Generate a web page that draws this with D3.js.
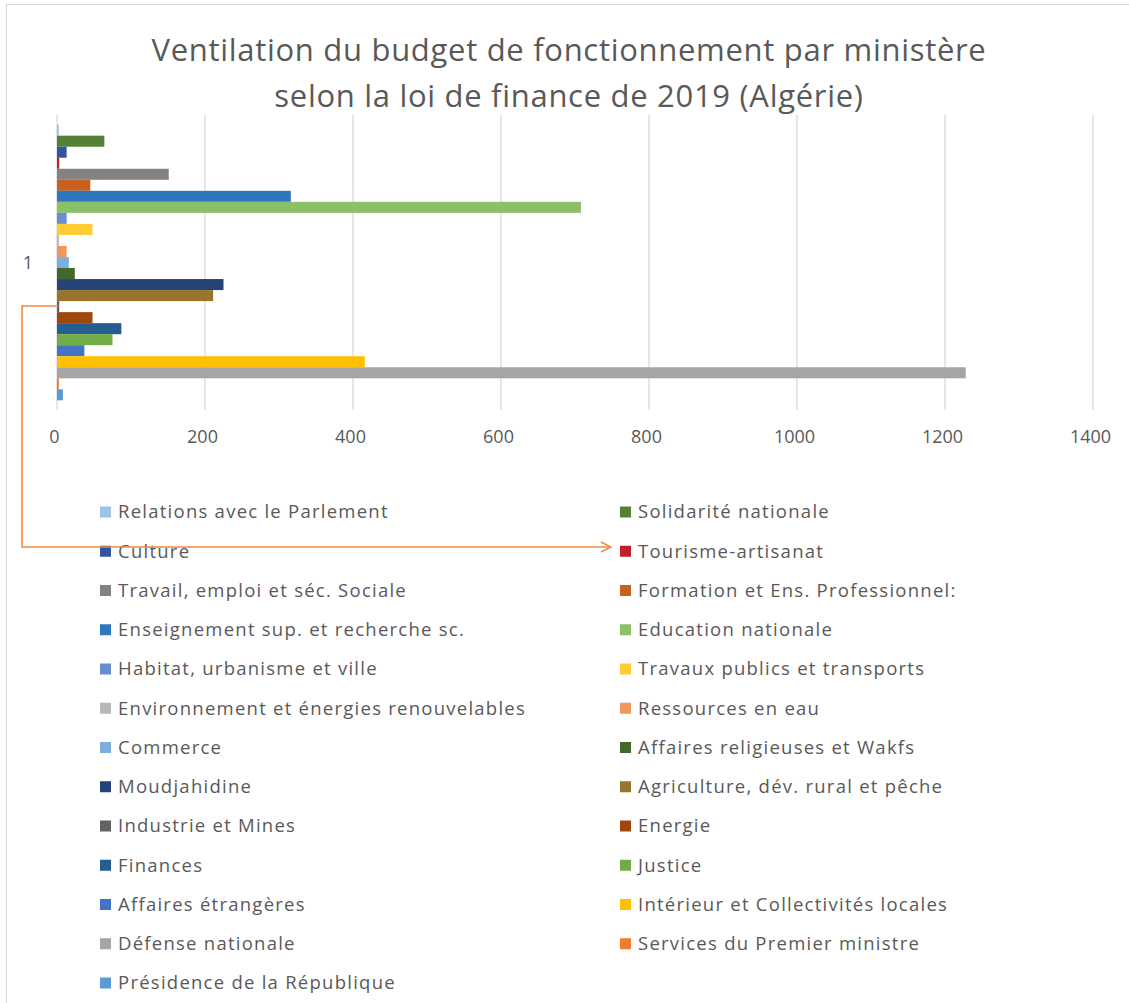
<!DOCTYPE html>
<html>
<head>
<meta charset="utf-8">
<script src="https://cdn.jsdelivr.net/npm/d3@7"></script>
<style>
  html, body { margin: 0; padding: 0; background: #fff; }
  svg { display: block; }
  text { font-family: "Open Sans", Lato, sans-serif; fill: #595959; }
</style>
</head>
<body>
<svg id="chart" width="1129" height="1003"></svg>
<script>
// Budget de fonctionnement 2019 par ministère (milliards de DA), lu de haut en bas
const categories = ["1"];

const ministeres = [
  "Relations avec le Parlement", "Solidarité nationale",
  "Culture", "Tourisme-artisanat",
  "Travail, emploi et séc. Sociale", "Formation et Ens. Professionnel:",
  "Enseignement sup. et recherche sc.", "Education nationale",
  "Habitat, urbanisme et ville", "Travaux publics et transports",
  "Environnement et énergies renouvelables", "Ressources en eau",
  "Commerce", "Affaires religieuses et Wakfs",
  "Moudjahidine", "Agriculture, dév. rural et pêche",
  "Industrie et Mines", "Energie",
  "Finances", "Justice",
  "Affaires étrangères", "Intérieur et Collectivités locales",
  "Défense nationale", "Services du Premier ministre",
  "Présidence de la République"
];

const montants = [
  2.5, 64,
  13, 3,
  151, 45,
  316, 708,
  13, 48,
  2.5, 13,
  16, 24,
  225, 211,
  3, 48,
  87, 75,
  37, 416,
  1228, 2.5,
  8
];

const xTicks = [0, 200, 400, 600, 800, 1000, 1200, 1400];

const palette = [
  "#9DC3E6", "#548235",
  "#2F55A0", "#C0202A",
  "#838383", "#C9601F",
  "#2E77BE", "#8CC068",
  "#698ED0", "#FFCD33",
  "#B8B8B8", "#F1975A",
  "#7CAFDD", "#43682B",
  "#264478", "#98752C",
  "#636363", "#9E480E",
  "#255E91", "#70AD47",
  "#4472C4", "#FFC000",
  "#A5A5A5", "#ED7D31",
  "#5B9BD5"
];

const svg = d3.select("#chart");

// cadre du graphique
svg.append("rect")
  .attr("x", 6.5).attr("y", 4.5)
  .attr("width", 1140).attr("height", 1010)
  .attr("fill", "none").attr("stroke", "#D9D9D9").attr("stroke-width", 1);

// titre
const title = svg.append("text")
  .attr("x", 569).attr("text-anchor", "middle")
  .style("font-size", "31px")
  .style("letter-spacing", "0.7px");
title.append("tspan").attr("x", 569).attr("y", 61)
  .text("Ventilation du budget de fonctionnement par ministère");
title.append("tspan").attr("x", 569).attr("y", 107)
  .text("selon la loi de finance de 2019 (Algérie)");

// échelles
const x = d3.scaleLinear().domain([0, 1400]).range([57, 1093]);
const plotTop = 115, plotBottom = 410;

const y0 = d3.scaleBand().domain(categories)
  .range([plotTop, plotBottom]).paddingInner(0).paddingOuter(0.035);
const y1 = d3.scaleBand().domain(ministeres)
  .range([0, y0.bandwidth()]).padding(0);
const color = d3.scaleOrdinal().domain(ministeres).range(palette);

// grille verticale
const grid = svg.append("g").attr("class", "grid");
grid.selectAll("line").data(xTicks).join("line")
  .attr("x1", d => x(d)).attr("x2", d => x(d))
  .attr("y1", plotTop).attr("y2", plotBottom)
  .attr("stroke", "#D9D9D9").attr("stroke-width", 1.3);

// barres
const groups = svg.append("g").selectAll("g")
  .data(categories).join("g")
  .attr("transform", d => `translate(0,${y0(d)})`);

groups.selectAll("rect")
  .data(() => ministeres.map((m, i) => ({ name: m, value: montants[i] })))
  .join("rect")
  .attr("x", x(0))
  .attr("y", d => y1(d.name))
  .attr("width", d => x(d.value) - x(0))
  .attr("height", y1.bandwidth())
  .attr("fill", d => color(d.name));

// axe horizontal (étiquettes seules)
const xAxis = d3.axisBottom(x).tickValues(xTicks).tickSize(0).tickPadding(0)
  .tickFormat(d3.format("d"));
const axisG = svg.append("g")
  .attr("transform", `translate(0,${plotBottom + 20})`)
  .call(xAxis);
axisG.select(".domain").remove();
axisG.selectAll("text")
  .style("font-size", "18px")
  .style("font-family", "\"Open Sans\", sans-serif")
  .attr("fill", "#595959")
  .attr("dx", "-3px");

// étiquette de catégorie
svg.append("g").selectAll("text").data(categories).join("text")
  .attr("x", 28)
  .attr("y", d => y0(d) + y0.bandwidth() / 2)
  .attr("text-anchor", "middle").attr("dy", "0.35em")
  .style("font-size", "18px")
  .text(d => d);

// légende sur deux colonnes
const legend = svg.append("g").attr("class", "legend");
const colX = [100, 620];
const rowY = i => 512 + i * 39.25;
const items = legend.selectAll("g").data(ministeres).join("g")
  .attr("transform", (d, i) => `translate(${colX[i % 2]},${rowY(Math.floor(i / 2))})`);
items.append("rect")
  .attr("x", 0).attr("y", -5.5).attr("width", 11).attr("height", 11)
  .attr("fill", d => color(d));
items.append("text")
  .attr("x", 18).attr("dy", "0.35em")
  .style("font-size", "18.5px")
  .style("letter-spacing", "1.25px")
  .text(d => d);

// flèche de renvoi vers Tourisme-artisanat
svg.append("defs").append("marker")
  .attr("id", "pointe").attr("viewBox", "0 0 12 12")
  .attr("refX", 11).attr("refY", 6)
  .attr("markerWidth", 12).attr("markerHeight", 12)
  .attr("markerUnits", "userSpaceOnUse").attr("orient", "auto")
  .append("path").attr("d", "M1,1 L11,6 L1,11")
  .attr("fill", "none").attr("stroke", "#F0893F").attr("stroke-width", 1.5);

svg.append("path")
  .attr("d", `M${x(0) + 1},306 H22 V547 H611`)
  .attr("fill", "none").attr("stroke", "#F0893F").attr("stroke-width", 1.6)
  .attr("marker-end", "url(#pointe)");
</script>
</body>
</html>
